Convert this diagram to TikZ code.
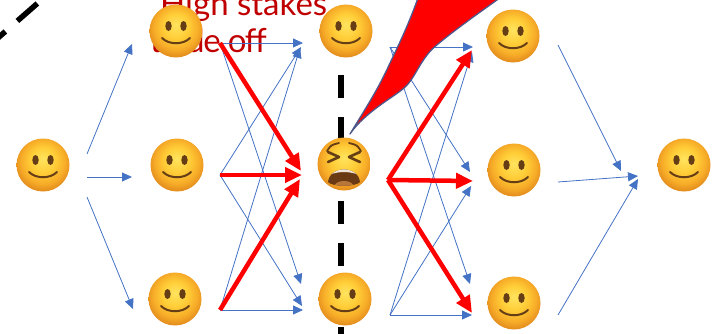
\documentclass[tikz,border=0pt]{standalone}
\usepackage{fontspec}
\newfontfamily\labelfont{Lato}
\usetikzlibrary{arrows.meta}

\definecolor{arrowblue}{RGB}{68,114,196}
\definecolor{hotred}{RGB}{255,0,0}
\definecolor{textred}{RGB}{192,0,0}
\definecolor{flameedge}{RGB}{78,88,140}
\definecolor{faceHi}{RGB}{255,228,95}
\definecolor{faceMid}{RGB}{255,205,55}
\definecolor{faceEdge}{RGB}{247,172,40}
\definecolor{faceRim}{RGB}{228,142,30}
\definecolor{featbrown}{RGB}{102,62,22}
\definecolor{mouthbrown}{RGB}{105,58,20}
\definecolor{teethgrey}{RGB}{238,230,218}
\definecolor{tonguebrown}{RGB}{185,118,58}

% yellow emoji face, lighter towards the top
\pgfdeclareradialshading{emojiface}{\pgfpoint{0bp}{6bp}}{%
  color(0bp)=(faceHi); color(12bp)=(faceMid); color(21bp)=(faceEdge);
  color(27bp)=(faceRim); color(50bp)=(faceRim)}

\begin{document}
\begin{tikzpicture}[
  x=1pt, y=-1pt,
  facebase/.style={circle, minimum size=53pt, inner sep=0pt, shading=emojiface},
  smiley/.style={facebase, path picture={
    \begin{scope}[shift={(path picture bounding box.center)}]
      \fill[featbrown] (-7.5,-5) ellipse [x radius=3.2, y radius=5];
      \fill[featbrown] (7.5,-5) ellipse [x radius=3.2, y radius=5];
      \draw[featbrown, line width=2pt, line cap=round]
        (-14,7) .. controls (-7,14) and (7,14) .. (14,7);
    \end{scope}}},
  tired/.style={facebase, path picture={
    \begin{scope}[shift={(path picture bounding box.center)}]
      % worried brows
      \draw[featbrown, line width=1.8pt, line cap=round]
        (-17,-13) .. controls (-13,-19) .. (-5,-21);
      \draw[featbrown, line width=1.8pt, line cap=round]
        (17,-13) .. controls (13,-19) .. (5,-21);
      % squeezed eyes
      \draw[featbrown, line width=2.6pt, line cap=round, line join=round]
        (-16,-12) -- (-5,-7) -- (-16,-2);
      \draw[featbrown, line width=2.6pt, line cap=round, line join=round]
        (16,-12) -- (5,-7) -- (16,-2);
      % open mouth with teeth and tongue
      \begin{scope}
        \clip (-16,18) .. controls (-14,1) and (14,1) .. (16,18)
              .. controls (12,23) and (-12,23) .. cycle;
        \fill[mouthbrown] (-20,-5) rectangle (20,30);
        \fill[teethgrey] (-20,14) .. controls (-10,6) and (10,6) .. (20,14)
              -- (20,-5) -- (-20,-5) -- cycle;
        \fill[tonguebrown] (0,23) ellipse [x radius=10, y radius=6];
      \end{scope}
    \end{scope}}},
  bluearrow/.style={draw=arrowblue, line width=0.8pt,
    -{Triangle[length=10pt,width=9pt]}},
  redarrow/.style={draw=hotred, line width=4.5pt,
    -{Triangle[length=17pt,width=15pt]}},
  caption/.style={font=\labelfont\fontsize{33}{38}\selectfont, text=textred,
    inner sep=0pt},
  cut/.style={draw=black, line width=5.5pt},
]
\clip (0,0) rectangle (718,333);

% label, partly hidden behind the faces
\node[caption, anchor=base west] (hs1) at (160,15) {High stakes};
\node[caption, anchor=base east] (hs2) at (267,52)
  {\addfontfeature{LetterSpace=-4}trade off};

% dashed cut lines
\draw[cut, dash pattern=on 23pt off 19pt] (341,75) -- (341,345);
\draw[cut, dash pattern=on 26.5pt off 16pt] (-14.6,48.9) -- (45.2,-3.4);

% faces
\node[smiley] (f0)  at (43,165)  {};
\node[smiley] (f1a) at (176,31)  {};
\node[smiley] (f1b) at (177,165) {};
\node[smiley] (f1c) at (175,299) {};
\node[smiley] (f2a) at (346,31)  {};
\node[tired]  (f2b) at (344,164) {};
\node[smiley] (f2c) at (345,299) {};
\node[smiley] (f3a) at (513,36)  {};
\node[smiley] (f3b) at (514,170) {};
\node[smiley] (f3c) at (514,303) {};
\node[smiley] (f4)  at (684,165) {};

% connector ports
\coordinate (o0a) at (87,154);  \coordinate (o0b) at (87,177);  \coordinate (o0c) at (87,197);
\coordinate (i1a) at (132,44);  \coordinate (i1b) at (132,177); \coordinate (i1c) at (133,309);

\coordinate (o1a) at (220,43);  \coordinate (o1b) at (220,175); \coordinate (o1c) at (220,310);
\coordinate (i2a) at (303,43);  \coordinate (i2a2) at (301,47); \coordinate (i2a3) at (300,48);
\coordinate (i2b1) at (301,171); \coordinate (i2b2) at (302,175); \coordinate (i2b3) at (300,179);
\coordinate (i2c1) at (301,284); \coordinate (i2c2) at (302,306); \coordinate (i2c) at (303,310);

\coordinate (o2a) at (390,47);  \coordinate (o2b) at (388,180); \coordinate (o2c) at (390,315);
\coordinate (i3a) at (473,47);  \coordinate (i3a2) at (472,52); \coordinate (i3a3) at (472,50);
\coordinate (i3b1) at (470,172); \coordinate (i3b2) at (471,186); \coordinate (i3b3) at (473,181);
\coordinate (i3c1) at (470,284); \coordinate (i3c) at (472,315); \coordinate (i3c3) at (472,313);

\coordinate (o3a) at (558,45);  \coordinate (o3b) at (558,182); \coordinate (o3c) at (558,315);
\coordinate (i4a) at (621,171); \coordinate (i4b) at (638,176); \coordinate (i4c) at (638,179);

% first layer
\draw[bluearrow] (o0a) -- (i1a);
\draw[bluearrow] (o0b) -- (i1b);
\draw[bluearrow] (o0c) -- (i1c);

% second layer
\draw[bluearrow] (o1a) -- (i2a);
\draw[bluearrow] (o1a) -- (i2c1);
\draw[bluearrow] (o1b) -- (i2a2);
\draw[bluearrow] (o1b) -- (i2c2);
\draw[bluearrow] (o1c) -- (i2a3);
\draw[bluearrow] (o1c) -- (i2c);

% third layer
\draw[bluearrow] (o2a) -- (i3a);
\draw[bluearrow] (o2a) -- (i3b1);
\draw[bluearrow] (o2a) -- (i3c1);
\draw[bluearrow] (o2c) -- (i3c);
\draw[bluearrow] (o2c) -- (i3b2);
\draw[bluearrow] (o2c) -- (i3a2);

% last layer
\draw[bluearrow] (o3a) -- (i4a);
\draw[bluearrow] (o3b) -- (i4b);
\draw[bluearrow] (o3c) -- (i4c);

% highlighted paths through the stressed face
\draw[redarrow] (o1a) -- (i2b1);
\draw[redarrow] (o1b) -- (i2b2);
\draw[redarrow] (o1c) -- (i2b3);
\draw[redarrow] (o2b) -- (i3a3);
\draw[redarrow] (o2b) -- (i3b3);
\draw[redarrow] (o2b) -- (i3c3);

% red callout tail pointing at the stressed face
\draw[fill=hotred, draw=flameedge, line width=1.3pt, line join=round]
  (350,134) .. controls (362,114) and (378,90) .. (390,63)
            .. controls (400,42) and (412,18) .. (424,-20)
  -- (540,-20) -- (516,-14)
            .. controls (495,2) and (462,24) .. (438,44)
            .. controls (420,58) and (416,78) .. (404,88)
            .. controls (394,97) and (365,112) .. (350,134)
  -- cycle;
\end{tikzpicture}
\end{document}
